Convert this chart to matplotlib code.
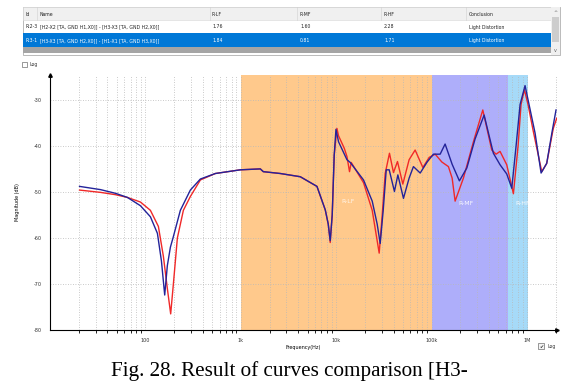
import matplotlib
matplotlib.use("Agg")
import matplotlib.pyplot as plt
from matplotlib.patches import Rectangle

# measured curves (Hz, dB)
red_f = [20.4, 33.8, 48.5, 64.8, 88.7, 112.8, 136.8, 154.3, 169.8, 184, 196.4, 216.3, 250, 295.8, 376.7,
         540.7, 988, 1600, 1721, 2593, 4198, 6281, 7674, 8248, 8650, 9077, 9525, 10170, 10570, 12130,
         12950, 13780, 14360, 19320, 23830, 28200, 30330, 32600, 36140, 39810, 43850, 49890, 58080, 67140,
         80910, 94190, 108900, 127900, 149900, 164000, 176200, 215300, 274200, 343600, 426600, 473200,
         521200, 612400, 719400, 805400, 865000, 937600, 1023000, 1164000, 1426000, 1607000, 1884000, 2046000]
red_db = [-49.6, -50.1, -50.6, -51.2, -52.2, -54.0, -57.5, -64.0, -71.0, -76.5, -70.0, -60.0, -54.0, -51.0, -47.4,
          -46.0, -45.2, -45.0, -45.6, -46.0, -46.7, -48.8, -53.9, -57.0, -61.0, -55.0, -42.0, -36.2, -37.8, -40.5,
          -42.3, -45.6, -43.6, -48.0, -54.0, -63.3, -55.0, -46.0, -41.6, -45.8, -43.4, -48.3, -43.0, -40.9,
          -44.7, -42.5, -41.8, -43.5, -44.5, -47.0, -52.0, -47.0, -39.1, -32.2, -40.9, -41.8,
          -41.2, -44.1, -50.4, -40.0, -31.0, -27.8, -31.0, -36.9, -45.6, -43.8, -36.2, -34.0]

blue_f = [20.4, 33.8, 48.5, 64.8, 88.7, 112.8, 133.6, 147.2, 159.3, 169.8, 182.8, 196.4, 232.4, 295.8, 376.7,
          540.7, 988, 1600, 1721, 2593, 4198, 6281, 7674, 8248, 8650, 9077, 9525, 9932, 10570, 12950,
          14020, 19320, 23830, 26870, 28890, 31070, 33420, 35910, 40740, 44260, 50660, 58080, 64420, 75860,
          89770, 104400, 122800, 138400, 164000, 195400, 233800, 285300, 354800, 443600, 521200, 612400,
          691800, 767400, 845300, 952800, 1074000, 1213000, 1403000, 1607000, 1827000, 2012000]
blue_db = [-48.8, -49.5, -50.3, -51.2, -53.0, -55.4, -59.0, -65.0, -72.4, -66.0, -62.0, -59.7, -54.0, -49.6, -47.2,
           -46.0, -45.2, -45.0, -45.6, -46.0, -46.7, -48.8, -53.9, -57.0, -60.6, -55.0, -42.0, -36.4, -39.1, -43.0,
           -43.6, -47.4, -52.0, -57.0, -61.2, -54.0, -45.2, -45.2, -49.9, -46.3, -51.4, -47.0, -44.5, -45.9,
           -43.5, -41.8, -41.8, -39.6, -44.0, -47.6, -44.8, -38.5, -33.3, -41.6, -44.1, -46.1,
           -49.2, -40.0, -31.0, -26.9, -32.0, -37.2, -45.9, -43.8, -37.0, -32.2]

# frequency bands
band_names = ["R-LF", "R-MF", "R-HF"]
band_edges = [1e3, 1e5, 6.3e5, 1.03e6]
band_colors = ["#FFC98C", "#AEAEFA", "#A6DAF8"]

y_ticks = [-30, -40, -50, -60, -70, -80]
x_ticks = [100, 1e3, 1e4, 1e5, 1e6]
x_ticklabels = ["100", "1k", "10k", "100k", "1M"]

# table contents
columns = ["Id", "Name", "R-LF", "R-MF", "R-HF", "Conclusion"]
row_ids = ["R:2-3", "R:3-1"]
row_names = ["[H2-X2 [TA, GND H1,X0]] - [H3-X3 [TA, GND H2,X0]]",
             "[H3-X3 [TA, GND H2,X0]] - [H1-X1 [TA, GND H3,X0]]"]
r_lf = ["1.76", "1.84"]
r_mf = ["1.60", "0.81"]
r_hf = ["2.28", "1.71"]
conclusion = ["Light Distortion", "Light Distortion"]

W, H = 562, 387
fig = plt.figure(figsize=(W / 100, H / 100), dpi=100)

# main chart, placed in pixel units
L, R, T, B = 50, 557, 75, 330
ax = fig.add_axes([L / W, 1 - B / H, (R - L) / W, (B - T) / H])
ax.set_xscale("log")
ax.set_xlim(10, 2.06e6)
ax.set_ylim(-80, -24.6)

for i in range(3):
    ax.axvspan(band_edges[i], band_edges[i + 1], color=band_colors[i], lw=0, zorder=0)

ax.plot(red_f, red_db, color="#F02828", lw=1.0, zorder=3)
ax.plot(blue_f, blue_db, color="#23239A", lw=1.0, zorder=4)

ax.text(1.12e4, -52.5, band_names[0], color="white", alpha=0.8, fontsize=4.5, zorder=2)
ax.text(1.9e5, -52.8, band_names[1], color="white", alpha=0.9, fontsize=4.5, zorder=2)
ax.text(7.6e5, -52.8, band_names[2], color="white", alpha=0.9, fontsize=4.5, zorder=2)

ax.set_yticks(y_ticks)
ax.set_yticklabels([str(v) for v in y_ticks])
ax.set_xticks(x_ticks)
ax.set_xticklabels(x_ticklabels)
ax.tick_params(axis="both", length=0, labelsize=3.5, colors="#333333", pad=6)
ax.grid(True, which="both", axis="x", color="#B8B8B8", ls=(0, (1, 2)), lw=0.6)
ax.grid(True, which="major", axis="y", color="#B8B8B8", ls=(0, (1, 2)), lw=0.6)
ax.set_xlabel("Frequency(Hz)", fontsize=3.5, labelpad=1)
ax.set_ylabel("Magnitude (dB)", fontsize=3.5, labelpad=10)
for s in ["top", "right"]:
    ax.spines[s].set_visible(False)
for s in ["left", "bottom"]:
    ax.spines[s].set_linewidth(0.8)
ax.plot([0], [1], marker="^", ms=2.5, color="black", transform=ax.transAxes, clip_on=False)
ax.plot([1], [0], marker=">", ms=2.5, color="black", transform=ax.transAxes, clip_on=False)

# overlay in pixel coordinates for the table, check boxes and caption
ov = fig.add_axes([0, 0, 1, 1], zorder=-1)
ov.set_xlim(0, W)
ov.set_ylim(H, 0)
ov.axis("off")

def box(x, y, w, h, **kw):
    ov.add_patch(Rectangle((x, y), w, h, **kw))

box(23, 7, 537, 48, facecolor="white", edgecolor="#A0A0A0", lw=0.5)
box(23, 7, 528, 13, facecolor="#F0F0F0", edgecolor="#D8D8D8", lw=0.4)
box(23, 33, 528, 14, facecolor="#0078D7", lw=0)
box(23, 47, 528, 6, facecolor="#A5A5A5", lw=0)
box(551, 7, 9, 48, facecolor="#F0F0F0", lw=0)
box(552, 17, 7, 25, facecolor="#CDCDCD", lw=0)
ov.text(555.5, 12, "^", fontsize=3.5, ha="center", va="center", color="#606060")
ov.text(555.5, 50, "v", fontsize=3.5, ha="center", va="center", color="#606060")

col_x = [26, 40, 212, 300, 384, 469]
for cx in [37, 210, 297, 381, 466]:
    ov.plot([cx, cx], [7, 20], color="#D0D0D0", lw=0.4)
for cx, c in zip(col_x, columns):
    ov.text(cx, 14, c, fontsize=3.3, va="center", color="#222222")
for i in range(2):
    yy = 27 + i * 13.5
    col = "#222222" if i == 0 else "white"
    vals = [row_ids[i], row_names[i], r_lf[i], r_mf[i], r_hf[i], conclusion[i]]
    for cx, v in zip(col_x, vals):
        ov.text(cx, yy, v, fontsize=3.3, va="center", color=col)

# log check boxes
box(22, 62, 5, 5, facecolor="white", edgecolor="#707070", lw=0.5)
ov.text(30, 64.5, "Log", fontsize=3.3, va="center", color="#333333")
box(538, 343, 6, 6, facecolor="#F4F4F4", edgecolor="#707070", lw=0.5)
ov.text(541, 346, "\u2714", fontsize=3.5, ha="center", va="center", color="#333333")
ov.text(547, 346.5, "Log", fontsize=3.3, va="center", color="#333333")

ov.text(289, 371, "Fig. 28. Result of curves comparison [H3-", fontsize=15.2,
        family="Liberation Serif", ha="center", va="center", color="black")

fig.savefig("out.png", dpi=100)
